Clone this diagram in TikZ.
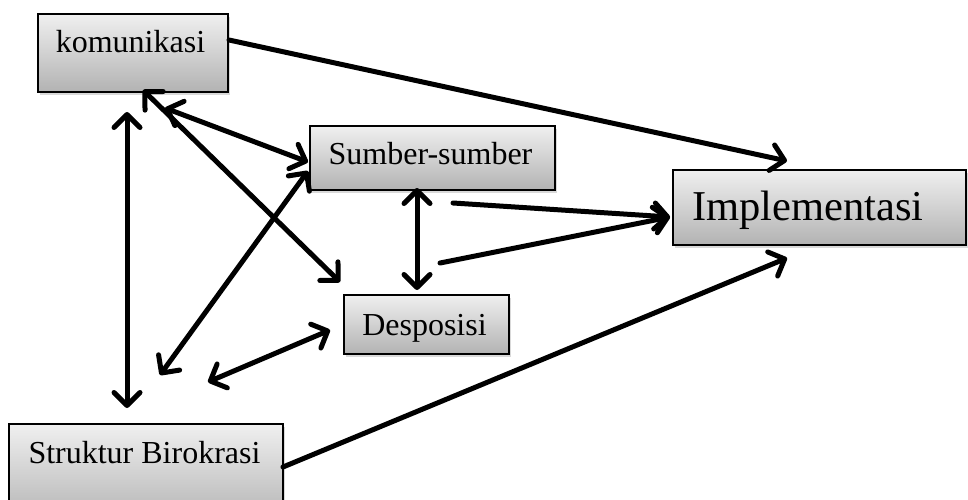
\documentclass[tikz,border=0pt]{standalone}
\usepackage{fontspec}
\setmainfont{Liberation Serif}
\usetikzlibrary{arrows.meta,shadows}
\begin{document}
\begin{tikzpicture}[x=1pt,y=-1pt,
  box/.style={draw=black, line width=1.8pt, inner sep=0pt, anchor=north west,
    top color=black!6, bottom color=black!30,
    drop shadow={shadow xshift=2.5pt,shadow yshift=-3.5pt,opacity=0.3}},
  lbl/.style={anchor=base, inner sep=0pt, font=\fontsize{32}{36}\selectfont},
  conn/.style={line width=5pt, line cap=round},
  tipx/.tip={Straight Barb[length=13pt,width=26pt,round]},
  one/.style={conn, -tipx},
  two/.style={conn, tipx-tipx}]
\useasboundingbox (0,0) rectangle (968,500);
\clip (0,0) rectangle (968,500);
% boxes
\node[box, minimum width=190pt, minimum height=78pt] (kom) at (37,13) {};
\node[box, minimum width=245pt, minimum height=64pt] (sum) at (309,125) {};
\node[box, minimum width=293pt, minimum height=75pt] (imp) at (672,169) {};
\node[box, minimum width=165pt, minimum height=59pt] (des) at (343,294) {};
\node[box, minimum width=274pt, minimum height=100pt] (str) at (8,423) {};
% labels
\node[lbl] (komt) at (130.5,53) {komunikasi};
\node[lbl] (sumt) at (430.5,164) {Sumber-sumber};
\node[lbl, font=\fontsize{42.5}{48}\selectfont] (impt) at (808,220) {Implementasi};
\node[lbl] (dest) at (424.5,335) {Desposisi};
\node[lbl] (strt) at (144.5,463) {Struktur Birokrasi};
% connector end points
\coordinate (k1) at (229,40);   \coordinate (i1) at (787,161);
\coordinate (k2) at (165,108);  \coordinate (s2) at (308,162);
\coordinate (k3) at (143,90);   \coordinate (d3) at (340,282);
\coordinate (k4) at (127,112);  \coordinate (t4) at (127,408);
\coordinate (s5) at (308,171);  \coordinate (t5) at (160,375);
\coordinate (t6) at (208,382);  \coordinate (d6) at (330,330);
\coordinate (s7) at (417,188);  \coordinate (d7) at (417,290);
\coordinate (s8) at (453,203);  \coordinate (i8) at (670,217);
\coordinate (d9) at (440,263);
\coordinate (t10) at (283,467); \coordinate (i10) at (787,258);
% connectors
\draw[one] (k1) -- (i1);
\draw[two] (k2) -- (s2);
\draw[two] (k3) -- (d3);
\draw[two] (k4) -- (t4);
\draw[two] (s5) -- (t5);
\draw[two] (t6) -- (d6);
\draw[two] (s7) -- (d7);
\draw[one] (s8) -- (i8);
\draw[one] (d9) -- (i8);
\draw[one] (t10) -- (i10);
\end{tikzpicture}
\end{document}
